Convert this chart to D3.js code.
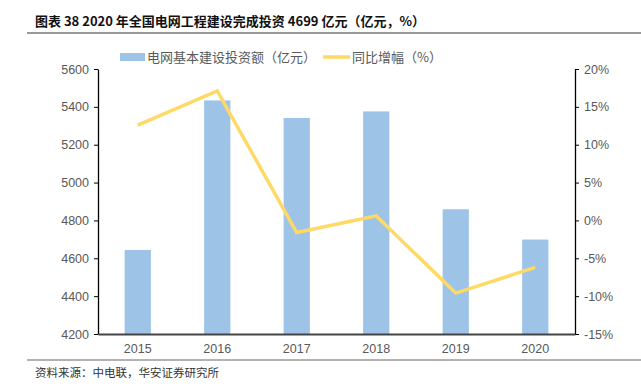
<!DOCTYPE html>
<html><head><meta charset="utf-8">
<script src="https://cdn.jsdelivr.net/npm/d3@7/dist/d3.min.js"></script>
<style>body{margin:0;background:#fff}svg{display:block}</style>
</head><body>
<svg id="c" width="641" height="388"></svg>
<script>
const years = ["2015","2016","2017","2018","2019","2020"];
const investment = [4644, 5434, 5341, 5376, 4859, 4699];
const growth = [12.6, 17.1, -1.6, 0.6, -9.6, -6.2];
const leftTicks = [4200,4400,4600,4800,5000,5200,5400,5600];
const rightTicks = [-15,-10,-5,0,5,10,15,20];
const title = "图表 38 2020 年全国电网工程建设完成投资 4699 亿元（亿元，%）";
const source = "资料来源：中电联，华安证券研究所";
const legendLabels = ["电网基本建设投资额（亿元）","同比增幅（%）"];

const svg = d3.select("#c");
const font = "'Noto Sans CJK SC', sans-serif";
const L = 98, R = 575, T = 69, B = 334;
const x = d3.scaleBand().domain(years).range([L,R]).paddingInner(0.67).paddingOuter(0.335);
const yL = d3.scaleLinear().domain([4200,5600]).range([B,T]);
const yR = d3.scaleLinear().domain([-15,20]).range([B,T]);

svg.append("text").attr("x",35).attr("y",26).attr("font-family",font).attr("font-weight","bold")
  .attr("font-size",13).attr("fill","#111").text(title);
svg.append("line").attr("x1",27).attr("x2",641).attr("y1",33).attr("y2",33).attr("stroke","#333").attr("stroke-width",1.2);
svg.append("line").attr("x1",27).attr("x2",641).attr("y1",360).attr("y2",360).attr("stroke","#666").attr("stroke-width",1);
svg.append("text").attr("x",35).attr("y",377).attr("font-family","'Noto Sans CJK SC', serif")
  .attr("font-size",11.5).attr("fill","#333").text(source);

// bars
svg.append("g").selectAll("rect").data(years).join("rect")
  .attr("x",d=>x(d)).attr("width",x.bandwidth())
  .attr("y",(d,i)=>yL(investment[i])).attr("height",(d,i)=>B-yL(investment[i]))
  .attr("fill","#9DC3E6");

// line
svg.append("path").datum(growth)
  .attr("d",d3.line().x((d,i)=>x(years[i])+x.bandwidth()/2).y(d=>yR(d)))
  .attr("fill","none").attr("stroke","#FFD966").attr("stroke-width",3.5);

// axes
const tickFont = "'Liberation Sans', Arial, sans-serif";
const gl = svg.append("g").attr("transform",`translate(${L},0)`)
  .call(d3.axisLeft(yL).tickValues(leftTicks).tickSize(4).tickSizeOuter(0).tickFormat(d3.format("d")));
const gr = svg.append("g").attr("transform",`translate(${R},0)`)
  .call(d3.axisRight(yR).tickValues(rightTicks).tickSize(4).tickSizeOuter(0).tickFormat(d=>d+"%"));
[gl,gr].forEach(g=>{
  g.select(".domain").attr("stroke","#000").attr("stroke-width",1.3);
  g.selectAll(".tick line").attr("stroke","#000");
  g.selectAll(".tick text").attr("font-family",tickFont).attr("font-size",12.5).attr("fill","#595959");
});
gl.selectAll(".tick text").attr("x",-9);
gr.selectAll(".tick text").attr("x",9);
const gx = svg.append("g").attr("transform",`translate(0,${B})`)
  .call(d3.axisBottom(x).tickSize(0).tickSizeOuter(0));
gx.select(".domain").attr("stroke","#444").attr("stroke-width",2);
gx.selectAll(".tick text").attr("font-family",tickFont).attr("font-size",12.5).attr("fill","#595959").attr("dy","0.71em").attr("y",10);

// legend
const lg = svg.append("g").attr("font-family",font).attr("font-size",13).attr("fill","#595959");
lg.append("rect").attr("x",120).attr("y",53).attr("width",25).attr("height",8).attr("fill","#9DC3E6");
lg.append("text").attr("x",147).attr("y",62).text(legendLabels[0]);
lg.append("line").attr("x1",323).attr("x2",350).attr("y1",57).attr("y2",57).attr("stroke","#FFD966").attr("stroke-width",3.5);
lg.append("text").attr("x",352).attr("y",62).text(legendLabels[1]);
</script>
</body></html>
